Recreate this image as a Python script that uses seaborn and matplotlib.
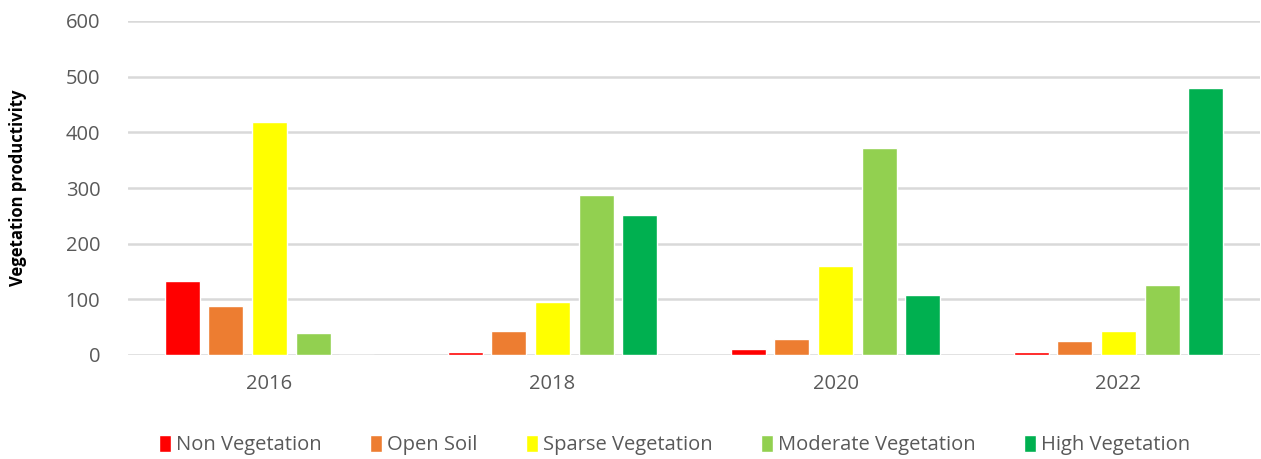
import matplotlib
matplotlib.use("Agg")
import matplotlib.pyplot as plt
import seaborn as sns
import pandas as pd

years = ["2016", "2018", "2020", "2022"]
classes = ["Non Vegetation", "Open Soil", "Sparse Vegetation", "Moderate Vegetation", "High Vegetation"]
non_vegetation = [133, 5, 10, 5]
open_soil = [88, 43, 28, 25]
sparse_vegetation = [418, 95, 160, 43]
moderate_vegetation = [40, 287, 371, 126]
high_vegetation = [0, 251, 108, 480]
colors = ["#FF0000", "#ED7D31", "#FFFF00", "#92D050", "#00B050"]

series = [non_vegetation, open_soil, sparse_vegetation, moderate_vegetation, high_vegetation]
rows = []
for cls, vals in zip(classes, series):
    for y, v in zip(years, vals):
        rows.append({"Year": y, "Class": cls, "Value": v})
df = pd.DataFrame(rows)

sns.set_theme(style="white")
plt.rcParams['font.family'] = ['Open Sans', 'DejaVu Sans']

fig = plt.figure(figsize=(12.61, 4.59), dpi=100)
ax = fig.add_axes([128/1261, (459-355)/459, (1260-128)/1261, (355-21)/459])

sns.barplot(data=df, x="Year", y="Value", hue="Class", hue_order=classes,
            palette=colors, width=0.77, gap=0.2, ax=ax, saturation=1,
            legend=True, zorder=3)

ax.set_ylim(0, 600)
ax.set_yticks(range(0, 601, 100))
ax.yaxis.grid(True, color="#D9D9D9", linewidth=1.8, zorder=0)
ax.set_axisbelow(True)
for s in ax.spines.values():
    s.set_visible(False)
ax.tick_params(axis="both", length=0, labelsize=14.5, labelcolor="#595959")
ax.tick_params(axis="y", pad=20)
ax.tick_params(axis="x", pad=14)
ax.set_xlabel("")
ax.set_ylabel("Vegetation productivity", fontsize=12, fontweight="bold", color="black")
ax.yaxis.set_label_coords(-0.089, 0.5)

leg = ax.legend(loc="center", bbox_to_anchor=(0.483, -0.27), ncol=5, frameon=False,
                fontsize=14.5, handlelength=0.6, handleheight=0.9, handletextpad=0.25,
                columnspacing=2.4, labelcolor="#595959")

fig.savefig("out.png", dpi=100)
